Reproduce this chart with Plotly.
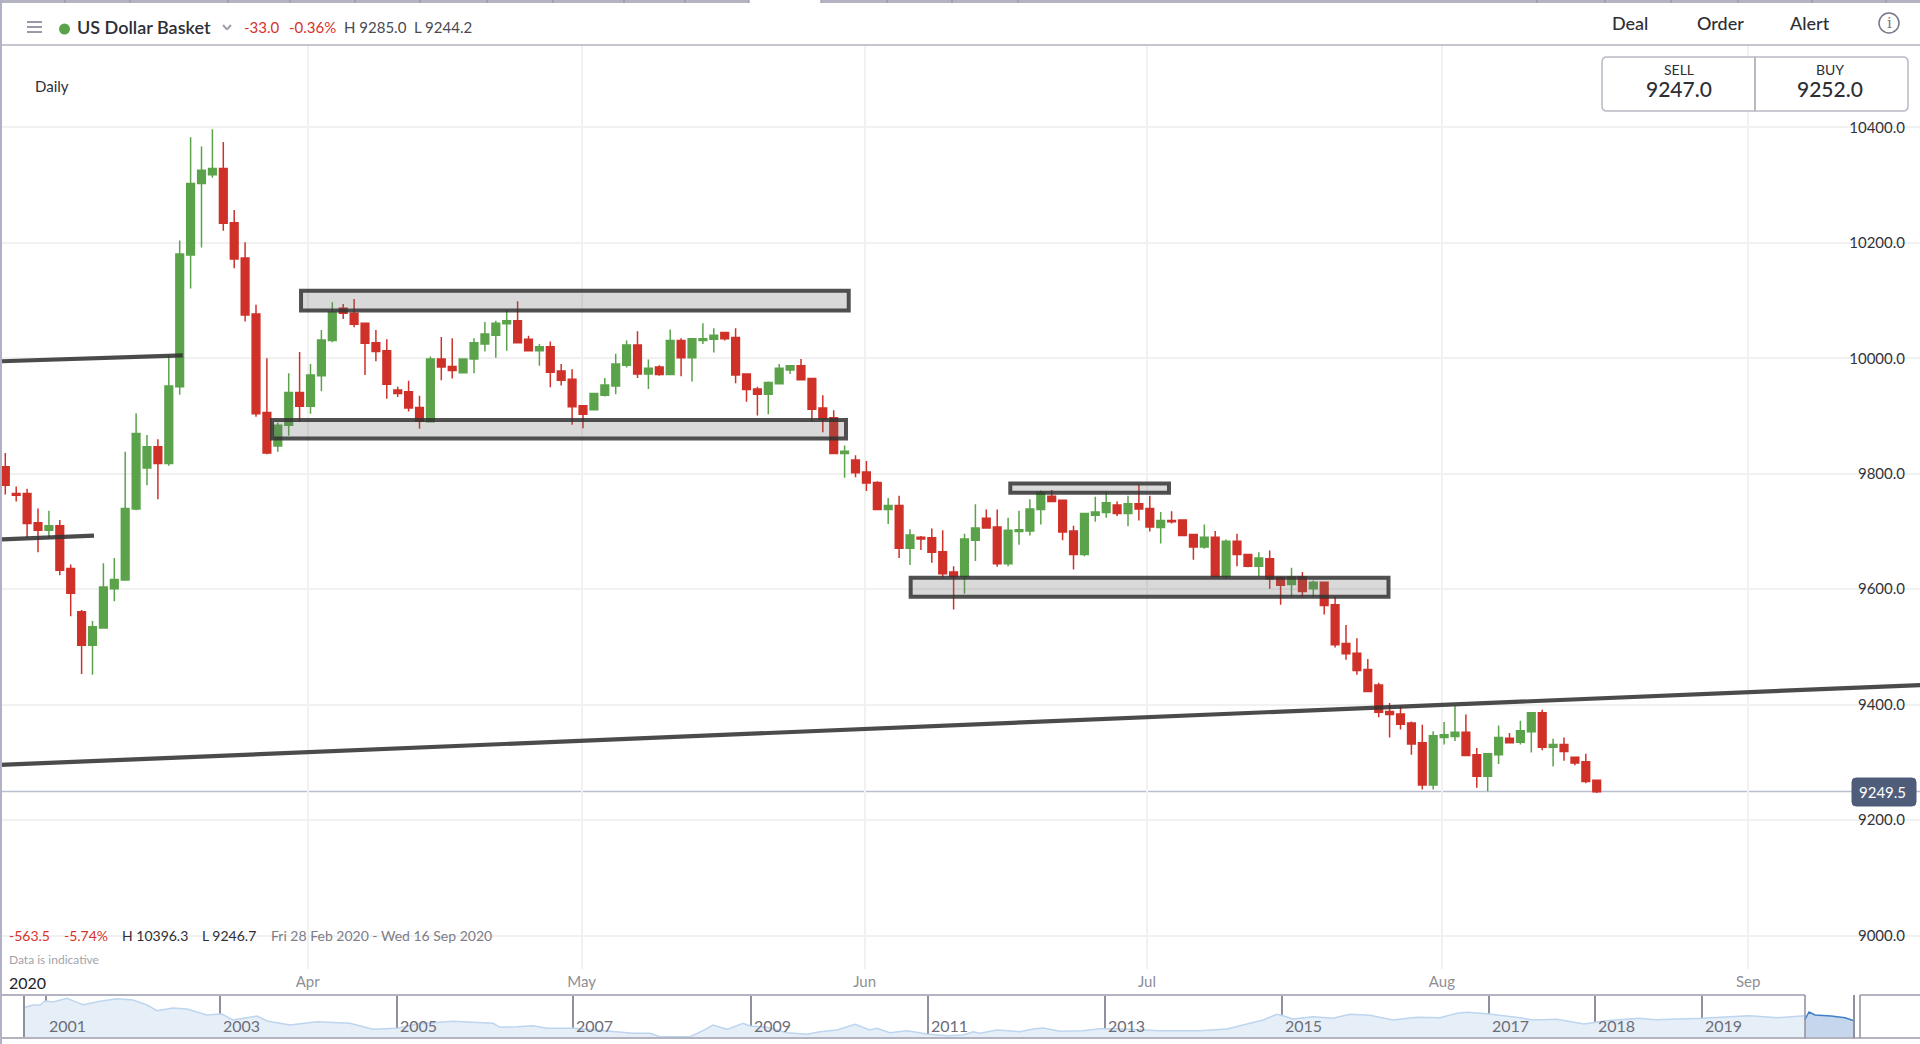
import plotly.graph_objects as go

# daily candles
opens = [9812, 9766, 9766, 9715, 9702, 9710, 9636, 9561, 9503, 9533,
         9601, 9616, 9739, 9810, 9847, 9818, 9951, 10179, 10303, 10318,
         10329, 10235, 10174, 10077, 9906, 9848, 9884, 9941, 9917, 9970,
         10031, 10087, 10078, 10061, 10027, 10013, 9945, 9942, 9915, 9890,
         9999, 9986, 9975, 9999, 10025, 10040, 10060, 10065, 10033, 10013,
         10020, 9978, 9964, 9918, 9911, 9936, 9952, 9988, 10023, 9973,
         9985, 9972, 10031, 10001, 10031, 10033, 10045, 10036, 9973, 9947,
         9938, 9956, 9980, 9987, 9965, 9914, 9897, 9835, 9824, 9803,
         9785, 9738, 9745, 9671, 9690, 9689, 9665, 9630, 9622, 9685,
         9723, 9708, 9644, 9700, 9701, 9738, 9761, 9754, 9701, 9660,
         9728, 9733, 9746, 9731, 9748, 9740, 9707, 9719, 9720, 9695,
         9673, 9690, 9622, 9683, 9660, 9640, 9653, 9620, 9608, 9621,
         9601, 9612, 9573, 9506, 9489, 9461, 9434, 9388, 9384, 9368,
         9334, 9261, 9343, 9345, 9352, 9313, 9276, 9313, 9342, 9335,
         9353, 9386, 9326, 9331, 9309, 9301, 9269]
closes = [9780, 9763, 9714, 9702, 9710, 9633, 9593, 9503, 9535, 9604,
          9617, 9740, 9870, 9847, 9818, 9952, 10181, 10303, 10326, 10329,
          10234, 10172, 10075, 9904, 9836, 9884, 9941, 9917, 9971, 10032,
          10080, 10078, 10059, 10026, 10012, 9955, 9939, 9914, 9891, 9999,
          9985, 9979, 9999, 10027, 10042, 10061, 10065, 10027, 10013, 10020,
          9976, 9962, 9916, 9903, 9939, 9954, 9990, 10023, 9973, 9983,
          9972, 10031, 10001, 10034, 10034, 10040, 10034, 9971, 9946, 9938,
          9958, 9983, 9987, 9963, 9912, 9895, 9835, 9839, 9802, 9784,
          9738, 9745, 9671, 9694, 9687, 9664, 9627, 9622, 9687, 9706,
          9706, 9644, 9702, 9703, 9739, 9767, 9752, 9699, 9660, 9731,
          9734, 9750, 9731, 9748, 9739, 9708, 9719, 9717, 9693, 9673,
          9690, 9622, 9683, 9660, 9640, 9654, 9618, 9607, 9621, 9596,
          9612, 9572, 9504, 9488, 9459, 9423, 9387, 9383, 9366, 9332,
          9261, 9346, 9348, 9352, 9312, 9276, 9315, 9343, 9334, 9355,
          9386, 9326, 9331, 9319, 9299, 9267, 9249]
highs = [9836, 9778, 9774, 9740, 9736, 9720, 9643, 9564, 9545, 9645,
         9654, 9838, 9905, 9867, 9860, 10005, 10204, 10383, 10367, 10397,
         10375, 10257, 10201, 10093, 10000, 9889, 9974, 10011, 9990, 10049,
         10097, 10094, 10103, 10061, 10049, 10033, 9951, 9961, 9935, 10003,
         10037, 10035, 10000, 10035, 10063, 10065, 10084, 10099, 10039, 10025,
         10029, 9990, 9981, 9919, 9940, 9966, 10008, 10031, 10047, 9998,
         9988, 10050, 10035, 10035, 10061, 10052, 10046, 10052, 9974, 9951,
         9960, 9990, 9988, 9999, 9966, 9936, 9910, 9849, 9832, 9822,
         9787, 9758, 9762, 9704, 9692, 9705, 9702, 9640, 9696, 9747,
         9738, 9738, 9724, 9736, 9756, 9771, 9772, 9755, 9710, 9732,
         9760, 9768, 9752, 9762, 9781, 9762, 9734, 9735, 9721, 9696,
         9712, 9701, 9686, 9696, 9661, 9664, 9667, 9622, 9637, 9630,
         9615, 9613, 9587, 9538, 9515, 9479, 9438, 9403, 9397, 9371,
         9365, 9354, 9370, 9398, 9383, 9325, 9316, 9364, 9351, 9372,
         9387, 9391, 9341, 9343, 9310, 9315, 9270]
lows = [9764, 9752, 9689, 9664, 9689, 9624, 9553, 9453, 9452, 9532,
        9579, 9615, 9737, 9780, 9756, 9814, 9937, 10121, 10192, 10313,
        10221, 10156, 10064, 9899, 9834, 9838, 9866, 9890, 9904, 9943,
        10028, 10068, 10054, 9971, 9995, 9930, 9933, 9908, 9878, 9889,
        9962, 9965, 9974, 9974, 10012, 10001, 10013, 10027, 10013, 9987,
        9950, 9953, 9885, 9879, 9910, 9934, 9938, 9984, 9966, 9947,
        9970, 9972, 9969, 9960, 10025, 10010, 10031, 9957, 9925, 9901,
        9903, 9955, 9973, 9963, 9890, 9872, 9834, 9793, 9794, 9770,
        9737, 9713, 9654, 9642, 9668, 9646, 9619, 9565, 9592, 9649,
        9706, 9639, 9640, 9677, 9693, 9712, 9751, 9685, 9634, 9657,
        9717, 9724, 9727, 9709, 9719, 9700, 9679, 9714, 9693, 9651,
        9670, 9621, 9618, 9640, 9638, 9622, 9601, 9573, 9586, 9586,
        9586, 9556, 9499, 9478, 9452, 9422, 9378, 9343, 9357, 9313,
        9253, 9253, 9331, 9337, 9311, 9256, 9250, 9297, 9333, 9331,
        9317, 9321, 9293, 9303, 9295, 9264, 9247]
days = list(range(len(opens)))

month_pos = [27.74, 52.88, 78.84, 104.74, 131.8, 159.9]
month_names = ['Apr', 'May', 'Jun', 'Jul', 'Aug', 'Sep']
price_ticks = [9000, 9200, 9400, 9600, 9800, 10000, 10200, 10400]
last_price = 9249.5

# drawn zones (day from, day to, price low, price high)
zones = [(27.13, 77.38, 10083, 10117),
         (24.47, 77.13, 9861, 9893),
         (92.2, 106.76, 9767, 9783),
         (83.06, 126.9, 9587, 9620)]
# drawn trend lines (day from, price, day to, price)
trends = [(-0.49, 9295.5, 175.66, 9434),
          (-0.3, 9995, 16.28, 10005),
          (-0.3, 9686.5, 8.14, 9693)]

# navigator strip along the bottom
mini_pos = [25, 33, 40, 45, 53, 67, 77, 83, 100, 117, 133, 147, 157, 173, 187, 197, 207, 217, 222, 233,
            257, 267, 290, 317, 350, 373, 397, 417, 453, 493,
            500, 517, 533, 547, 573, 587, 613, 633, 650, 660, 690, 703, 713, 727, 743, 750, 767, 787, 807, 820,
            837, 855, 870, 877, 890, 907, 927, 947, 963, 973, 980, 997,
            1020, 1033, 1043, 1060, 1083, 1100, 1117, 1143, 1160, 1200, 1227, 1247, 1263, 1277, 1283, 1293,
            1313, 1333, 1350, 1370, 1393, 1417, 1440, 1457, 1467, 1487, 1500, 1520,
            1533, 1557, 1584, 1606, 1639, 1655, 1702, 1749, 1778, 1805]
mini_val = [11004, 11310, 11310, 11834, 11703, 12183, 11659, 11353, 11790, 12140, 11965, 11310, 10567, 10917,
            10786, 10349, 10000, 10087, 10131, 9345, 9869, 9214, 8690, 9126, 8908, 8122, 8253, 8821, 9170, 8908,
            8384, 8471, 8602, 8253, 8253, 8122, 7816, 7598, 7598, 7161, 7161, 7947, 8690, 8122, 8908, 8559,
            8384, 7685, 7467, 7816, 8035, 8777, 8035, 8253, 7685, 7947, 7511, 7292, 7380, 7816, 7598, 8035,
            7816, 8166, 8297, 7860, 7947, 8209, 8209, 8035, 7947, 7947, 8166, 8821, 9345, 10087, 9912, 9476,
            9782, 9563, 10087, 9956, 9345, 9694, 9650, 10218, 10349, 10175, 10000, 9650,
            9344, 9432, 8820, 9257, 9563, 9388, 9563, 9912, 9650, 9912]
sel_pos = [1805, 1809, 1815, 1831, 1845, 1854]
sel_val = [9432, 10392, 10000, 9869, 9650, 9257]
year_pos = [45.5, 220, 397.3, 573.3, 750.7, 928.3, 1105.3, 1281.7, 1488.6, 1594.7, 1701.6]
year_names = ['2001', '2003', '2005', '2007', '2009', '2011', '2013', '2015', '2017', '2018', '2019']

# tick marks in the strip at the very top of the page
strip_ticks = [65, 130, 228, 290, 355, 420, 487, 553, 624, 685, 749, 821, 887, 952, 1018, 1537, 1605, 1671, 1738, 1812, 1886]

W, H = 1920, 1044
RED = '#cf3129'
GREEN = '#5ba34b'
EDGE = '#b3b3c1'


def px(x):
    return x / W


def py(y):
    return 1 - y / H


def label(text, x, y, size, color, anchor='left', weight=400, family='Lato'):
    # annotations carry a small pad on the left
    if anchor == 'left':
        x = x - 2.5
    return dict(text=text, x=px(x), y=py(y), xref='paper', yref='paper', showarrow=False,
                xanchor=anchor, yanchor='middle', font=dict(size=size, color=color, family=family, weight=weight))


def line(x0, y0, x1, y1, color=EDGE, width=1.5):
    return dict(type='line', xref='paper', yref='paper', x0=px(x0), y0=py(y0), x1=px(x1), y1=py(y1),
                line=dict(color=color, width=width))


def round_box(x0, y0, x1, y1, r, fill, edge, width=1.5):
    p = ('M{a},{t} L{b},{t} Q{e},{t} {e},{u} L{e},{v} Q{e},{f} {b},{f} L{a},{f} Q{s},{f} {s},{v} L{s},{u} Q{s},{t} {a},{t} Z'
         .format(s=px(x0), e=px(x1), a=px(x0 + r), b=px(x1 - r), t=py(y0), f=py(y1), u=py(y0 + r), v=py(y1 - r)))
    return dict(type='path', xref='paper', yref='paper', path=p, fillcolor=fill, line=dict(color=edge, width=width))


fig = go.Figure()
fig.add_trace(go.Candlestick(x=days, open=opens, high=highs, low=lows, close=closes,
                             increasing=dict(line=dict(color=GREEN, width=1.5), fillcolor=GREEN),
                             decreasing=dict(line=dict(color=RED, width=1.5), fillcolor=RED),
                             whiskerwidth=0, hoverinfo='skip', showlegend=False))
fig.add_trace(go.Scatter(x=mini_pos, y=mini_val, xaxis='x2', yaxis='y2', mode='lines', fill='tozeroy',
                         line=dict(color='#bdd5ee', width=1.5), fillcolor='#e6eff8', hoverinfo='skip', showlegend=False))
fig.add_trace(go.Scatter(x=sel_pos, y=sel_val, xaxis='x2', yaxis='y2', mode='lines', fill='tozeroy',
                         line=dict(color='#3f7fc6', width=1.5), fillcolor='#c6d7ed', hoverinfo='skip', showlegend=False))

shapes = []
# price line sits under the candles
shapes.append(dict(type='line', xref='paper', yref='y', x0=0, x1=1, y0=last_price, y1=last_price,
                   line=dict(color='#b9bfd0', width=1.5), layer='below'))
for d0, d1, p0, p1 in zones:
    shapes.append(dict(type='rect', xref='x', yref='y', x0=d0, x1=d1, y0=p0, y1=p1,
                       fillcolor='rgba(110,110,110,0.26)', line=dict(color='rgba(50,50,50,0.85)', width=4)))
for d0, p0, d1, p1 in trends:
    shapes.append(dict(type='line', xref='x', yref='y', x0=d0, y0=p0, x1=d1, y1=p1,
                       line=dict(color='rgba(50,50,50,0.88)', width=4.2)))

# page furniture
shapes.append(line(0, 1.5, 749, 1.5, width=3))
shapes.append(line(821, 1.5, 1920, 1.5, width=3))
for t in strip_ticks:
    shapes.append(line(t, 0, t, 3, color='#8f8f9d', width=1))
shapes.append(line(1, 0, 1, 1044, color='#b0b0c6', width=2))
shapes.append(line(0, 45, 1920, 45))
for y in [22, 27, 32]:
    shapes.append(line(27, y, 42, y, color='#77778a', width=1.5))
shapes.append(dict(type='circle', xref='paper', yref='paper', x0=px(59), x1=px(70), y0=py(34.5), y1=py(23.5),
                   fillcolor=GREEN, line=dict(width=0)))
shapes.append(line(223, 25, 227, 29.5, color='#a0a0ae', width=2))
shapes.append(line(227, 29.5, 231, 25, color='#a0a0ae', width=2))
shapes.append(dict(type='circle', xref='paper', yref='paper', x0=px(1879), x1=px(1899), y0=py(33), y1=py(13),
                   fillcolor='white', line=dict(color='#77778a', width=1.5)))
shapes.append(round_box(1602, 57, 1908, 111, 5, 'white', '#b9b9c4'))
shapes.append(line(1755, 57, 1755, 111, color='#b9b9c4', width=2))
shapes.append(round_box(1852, 778, 1916, 806, 4, '#4f5d7a', '#4f5d7a', 1))
# navigator frame
shapes.append(line(0, 995, 1805, 995, width=2))
shapes.append(line(1860, 995, 1920, 995, width=2))
shapes.append(line(0, 1038, 1920, 1038, width=2))
shapes.append(line(1805, 995, 1805, 1038, color='#8f8f9d', width=1.5))
shapes.append(line(1854, 995, 1854, 1038, color='#8f8f9d', width=2))
shapes.append(line(1860, 995, 1860, 1038, color='#8f8f9d', width=1.5))

notes = [
    label('US Dollar Basket', 77, 26.5, 18, '#2e2e35', weight=600),
    label('-33.0', 244, 26.5, 15, '#d8322b'),
    label('-0.36%', 289, 26.5, 15, '#d8322b'),
    label('H 9285.0', 344, 26.5, 15, '#4a4a52'),
    label('L 9244.2', 414, 26.5, 15, '#4a4a52'),
    label('Daily', 35, 86, 15, '#2e2e35'),
    label('Deal', 1630, 23, 18, '#2e2e35', 'center', 500),
    label('Order', 1720, 23, 18, '#2e2e35', 'center', 500),
    label('Alert', 1810, 23, 18, '#2e2e35', 'center', 500),
    label('i', 1889, 23, 15, '#77778a', 'center', family='DejaVu Serif'),
    label('SELL', 1679, 69, 14, '#2e2e35', 'center'),
    label('9247.0', 1679, 89, 21, '#2e2e35', 'center', 500),
    label('BUY', 1830, 69, 14, '#2e2e35', 'center'),
    label('9252.0', 1830, 89, 21, '#2e2e35', 'center', 500),
    label('9249.5', 1882, 792, 15, 'white', 'center'),
    label('-563.5', 9, 935, 14, '#d8322b'),
    label('-5.74%', 64, 935, 14, '#d8322b'),
    label('H 10396.3', 122, 935, 14, '#2e2e35'),
    label('L 9246.7', 202, 935, 14, '#2e2e35'),
    label('Fri 28 Feb 2020 - Wed 16 Sep 2020', 271, 935, 14, '#7d7d88'),
    label('Data is indicative', 9, 959, 12, '#a3a3ab'),
    label('2020', 9, 982, 16, '#222228'),
]
for pos, name in zip(year_pos, year_names):
    notes.append(dict(text=name, x=pos + 1, y=py(1025.5), xref='x2', yref='paper', showarrow=False, xanchor='left',
                      yanchor='middle', font=dict(size=16, color='#6d6d78', family='Lato')))

fig.update_layout(
    width=W, height=H, margin=dict(l=0, r=0, t=0, b=0),
    paper_bgcolor='white', plot_bgcolor='white', boxgap=0.12, boxgroupgap=0.2, showlegend=False, hovermode=False,
    font=dict(family='Lato'),
    xaxis=dict(domain=[0, 1], range=[-0.486, 175.66], anchor='y', tickvals=month_pos, ticktext=month_names,
               showgrid=True, gridcolor='#f1f1f2', gridwidth=1.5, zeroline=False, showline=False, ticks='',
               ticklabelstandoff=2, rangeslider=dict(visible=False), tickfont=dict(size=15, color='#8e8e96')),
    yaxis=dict(domain=[py(969), py(45)], range=[8942, 10542.9], anchor='x', side='right', tickvals=price_ticks,
               tickformat='.1f', ticklabelposition='inside', ticklabelstandoff=12, showgrid=True,
               gridcolor='#f1f1f2', gridwidth=1.5, zeroline=False, showline=False, ticks='',
               tickfont=dict(size=15, color='#33333a')),
    xaxis2=dict(domain=[0, 1], range=[0, W], anchor='y2', tickvals=[24] + year_pos, showticklabels=False,
                showgrid=True, gridcolor='#8f8f9d', gridwidth=1.5, zeroline=False, showline=False, ticks=''),
    yaxis2=dict(domain=[py(1038), py(995)], range=[6987, 12620], anchor='x2', showticklabels=False, showgrid=False,
                zeroline=False, showline=False, ticks=''),
    shapes=shapes, annotations=notes,
)

fig.write_html("out.html", config={'displayModeBar': False},
               post_script="document.body.style.margin='0';document.documentElement.style.overflow='hidden';")
